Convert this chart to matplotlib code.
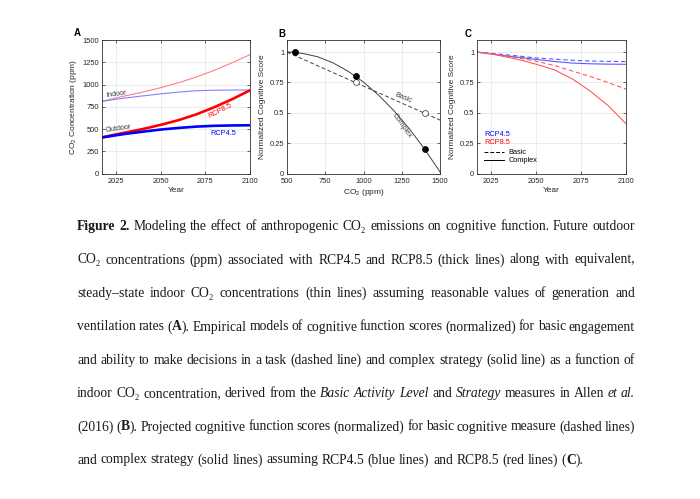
import matplotlib
matplotlib.use('Agg')
import matplotlib.pyplot as plt

plt.rcParams['font.family'] = ['Liberation Sans', 'DejaVu Sans']
plt.rcParams['mathtext.default'] = 'regular'

# ---------------- data ----------------
years = [2017, 2025, 2030, 2040, 2050, 2060, 2070, 2080, 2090, 2100]
outdoor_rcp85 = [405, 440, 460, 500, 547, 600, 665, 745, 835, 935]
outdoor_rcp45 = [405, 430, 445, 470, 494, 512, 527, 536, 540, 542]
indoor_rcp85 = [810, 850, 872, 915, 965, 1020, 1085, 1160, 1245, 1335]
indoor_rcp45 = [810, 835, 848, 872, 895, 915, 930, 936, 938, 938]

co2_ppm = [500, 600, 700, 800, 900, 1000, 1100, 1200, 1300, 1400, 1500]
complex_model = [1.003, 0.99, 0.962, 0.912, 0.842, 0.753, 0.644, 0.516, 0.368, 0.20, 0.013]
basic_x = [500, 1500]
basic_model = [1.0, 0.44]
points_x = [550, 950, 1400]
complex_points = [1.0, 0.80, 0.20]
basic_points = [1.0, 0.75, 0.50]

basic_rcp45 = [1.0, 0.99, 0.983, 0.968, 0.952, 0.942, 0.933, 0.927, 0.924, 0.922]
complex_rcp45 = [1.0, 0.985, 0.975, 0.958, 0.94, 0.923, 0.91, 0.904, 0.901, 0.90]
basic_rcp85 = [1.0, 0.985, 0.975, 0.952, 0.925, 0.89, 0.845, 0.80, 0.75, 0.695]
complex_rcp85 = [1.0, 0.985, 0.97, 0.94, 0.90, 0.855, 0.78, 0.68, 0.56, 0.41]

year_ticks = [2025, 2050, 2075, 2100]
conc_ticks = [0, 250, 500, 750, 1000, 1250, 1500]
co2_ticks = [500, 750, 1000, 1250, 1500]
score_ticks = [0, 0.25, 0.5, 0.75, 1]
score_labels = ['0', '0.25', '0.5', '0.75', '1']

caption_lines = [
    "^Figure 2.^ Modeling the effect of anthropogenic CO\u2082 emissions on cognitive function. Future outdoor",
    "CO\u2082 concentrations (ppm) associated with RCP4.5 and RCP8.5 (thick lines) along with equivalent,",
    "steady\u2013state indoor CO\u2082 concentrations (thin lines) assuming reasonable values of generation and",
    "ventilation rates (^A^). Empirical models of cognitive function scores (normalized) for basic engagement",
    "and ability to make decisions in a task (dashed line) and complex strategy (solid line) as a function of",
    "indoor CO\u2082 concentration, derived from the ~Basic Activity Level~ and ~Strategy~ measures in Allen ~et al.~",
    "(2016) (^B^). Projected cognitive function scores (normalized) for basic cognitive measure (dashed lines)",
    "and complex strategy (solid lines) assuming RCP4.5 (blue lines) and RCP8.5 (red lines) (^C^).",
]

# ---------------- figure ----------------
W, H = 700, 499
fig = plt.figure(figsize=(W / 100, H / 100), dpi=100)
fig.patch.set_facecolor('white')


def rect(l, t, r, b):
    return [l / W, 1 - b / H, (r - l) / W, (b - t) / H]


TXT = '#262626'
TICK_FS = 5.4
LAB_FS = 6.0
ANN_FS = 5.3


def style(ax):
    ax.grid(True, color='#e4e4e4', lw=0.5)
    ax.set_axisbelow(True)
    for s in ax.spines.values():
        s.set_color('#303030')
        s.set_linewidth(0.6)
    ax.tick_params(direction='in', length=2, width=0.5, labelsize=TICK_FS,
                   colors=TXT, top=True, right=True)
    ax.tick_params(axis='x', pad=3)
    ax.tick_params(axis='y', pad=2)


DASH = (0, (4, 2.5))

# Panel A
axA = fig.add_axes(rect(102, 40, 250, 173.5))
style(axA)
axA.plot(years, indoor_rcp85, color='#ff8080', lw=0.8)
axA.plot(years, indoor_rcp45, color='#8080ff', lw=0.8)
axA.plot(years, outdoor_rcp85, color='#ff0000', lw=1.9)
axA.plot(years, outdoor_rcp45, color='#0000ff', lw=1.9)
axA.set_xlim(2017, 2100)
axA.set_ylim(0, 1500)
axA.set_xticks(year_ticks)
axA.set_yticks(conc_ticks)
axA.set_xlabel('Year', fontsize=LAB_FS, color=TXT, labelpad=1.5)
axA.set_ylabel('CO$_2$ Concentration (ppm)', fontsize=LAB_FS, color=TXT, labelpad=2.5)
axA.text(2025, 890, 'Indoor', fontsize=ANN_FS, color='#404040', rotation=7, ha='center', va='center')
axA.text(2026, 505, 'Outdoor', fontsize=ANN_FS, color='#404040', rotation=8, ha='center', va='center')
axA.text(2083, 705, 'RCP8.5', fontsize=ANN_FS, color='#ff0000', rotation=27, ha='center', va='center')
axA.text(2085, 455, 'RCP4.5', fontsize=ANN_FS, color='#0000ff', rotation=0, ha='center', va='center')
fig.text(77 / W, 1 - 33 / H, 'A', fontsize=7, fontweight='bold', ha='center', va='center')

# Panel B
axB = fig.add_axes(rect(287, 40, 440, 173.5))
style(axB)
axB.plot(basic_x, basic_model, color='#404040', lw=0.7, ls=DASH)
axB.plot(co2_ppm, complex_model, color='#404040', lw=0.7)
axB.plot(points_x, basic_points, ls='none', marker='o', ms=4.2, mfc='white', mec='#303030', mew=0.5)
axB.plot(points_x, complex_points, ls='none', marker='o', ms=4.3, mfc='black', mec='black', mew=0.5)
axB.set_xlim(500, 1500)
axB.set_ylim(0, 1.1)
axB.set_xticks(co2_ticks)
axB.set_yticks(score_ticks)
axB.set_yticklabels(score_labels)
axB.set_xlabel('CO$_2$ (ppm)', fontsize=LAB_FS, color=TXT, labelpad=1.5)
axB.set_ylabel('Normalized Cognitive Score', fontsize=LAB_FS, color=TXT, labelpad=2.5)
axB.text(1262, 0.625, 'Basic', fontsize=ANN_FS, color='#404040', rotation=-22, ha='center', va='center')
axB.text(1252, 0.39, 'Complex', fontsize=ANN_FS, color='#404040', rotation=-55, ha='center', va='center')
fig.text(282 / W, 1 - 34 / H, 'B', fontsize=7, fontweight='bold', ha='center', va='center')

# Panel C
axC = fig.add_axes(rect(477, 40, 626, 173.5))
style(axC)
axC.plot(years, basic_rcp45, color='#5a5aff', lw=0.8, ls=DASH)
axC.plot(years, complex_rcp45, color='#5a5aff', lw=0.8)
axC.plot(years, basic_rcp85, color='#ff5a5a', lw=0.8, ls=DASH)
axC.plot(years, complex_rcp85, color='#ff5a5a', lw=0.8)
axC.set_xlim(2017, 2100)
axC.set_ylim(0, 1.1)
axC.set_xticks(year_ticks)
axC.set_yticks(score_ticks)
axC.set_yticklabels(score_labels)
axC.set_xlabel('Year', fontsize=LAB_FS, color=TXT, labelpad=1.5)
axC.set_ylabel('Normalized Cognitive Score', fontsize=LAB_FS, color=TXT, labelpad=2.5)
axC.text(0.05, 0.295, 'RCP4.5', transform=axC.transAxes, fontsize=ANN_FS, color='#0000ff', va='center')
axC.text(0.05, 0.235, 'RCP8.5', transform=axC.transAxes, fontsize=ANN_FS, color='#ff0000', va='center')
axC.plot([0.05, 0.18], [0.158, 0.158], transform=axC.transAxes, color='black', lw=0.7, ls=(0, (4, 2)))
axC.plot([0.05, 0.18], [0.098, 0.098], transform=axC.transAxes, color='black', lw=0.7)
axC.text(0.21, 0.158, 'Basic', transform=axC.transAxes, fontsize=ANN_FS, color='black', va='center')
axC.text(0.21, 0.098, 'Complex', transform=axC.transAxes, fontsize=ANN_FS, color='black', va='center')
fig.text(468 / W, 1 - 34 / H, 'C', fontsize=7, fontweight='bold', ha='center', va='center')

# ---------------- caption (justified) ----------------
CAP_FAM = ['Liberation Serif', 'DejaVu Serif']
BASE_FS = 10.0


def parse(line):
    words, cur, buf, st = [], [], '', 'n'
    for ch in line:
        if ch in '^~':
            if buf:
                cur.append((buf, st))
                buf = ''
            ns = 'b' if ch == '^' else 'i'
            st = 'n' if st == ns else ns
        elif ch == ' ':
            if buf:
                cur.append((buf, st))
                buf = ''
            if cur:
                words.append(cur)
                cur = []
        else:
            buf += ch
    if buf:
        cur.append((buf, st))
    if cur:
        words.append(cur)
    return words


renderer = fig.canvas.get_renderer()
left_px, right_px = 77, 635
baselines = [230, 263.5, 297, 330.5, 364, 397, 430.5, 463.5]

all_lines = []
for line in caption_lines:
    words = parse(line)
    arts = []
    for w in words:
        wa = []
        for chunk, st in w:
            t = fig.text(0, 0, chunk, fontsize=BASE_FS, family=CAP_FAM,
                         fontweight='bold' if st == 'b' else 'normal',
                         fontstyle='italic' if st == 'i' else 'normal',
                         color='#1a1a1a', va='baseline', ha='left')
            wa.append(t)
        arts.append(wa)
    all_lines.append(arts)

# choose a font size so that every justified line keeps a sensible word gap
scale = 1.12
for arts in all_lines[:-1]:
    tot = sum(t.get_window_extent(renderer).width for wa in arts for t in wa)
    n = len(arts) - 1
    min_gap = 0.22 * BASE_FS * 100 / 72
    s = (right_px - left_px) / (tot + n * min_gap)
    scale = min(scale, s)
fs = BASE_FS * scale
for arts in all_lines:
    for wa in arts:
        for t in wa:
            t.set_fontsize(fs)

space_px = 0.25 * fs * 100 / 72
for li, arts in enumerate(all_lines):
    widths = []
    cws = []
    for wa in arts:
        c = [t.get_window_extent(renderer).width for t in wa]
        cws.append(c)
        widths.append(sum(c))
    if li == len(all_lines) - 1:
        gap = space_px
    else:
        gap = (right_px - left_px - sum(widths)) / (len(arts) - 1)
    x = left_px
    y = 1 - baselines[li] / H
    for wa, c, ww in zip(arts, cws, widths):
        cx = x
        for t, cw in zip(wa, c):
            t.set_position((cx / W, y))
            cx += cw
        x += ww + gap

fig.savefig('out.png', dpi=100, facecolor='white')
